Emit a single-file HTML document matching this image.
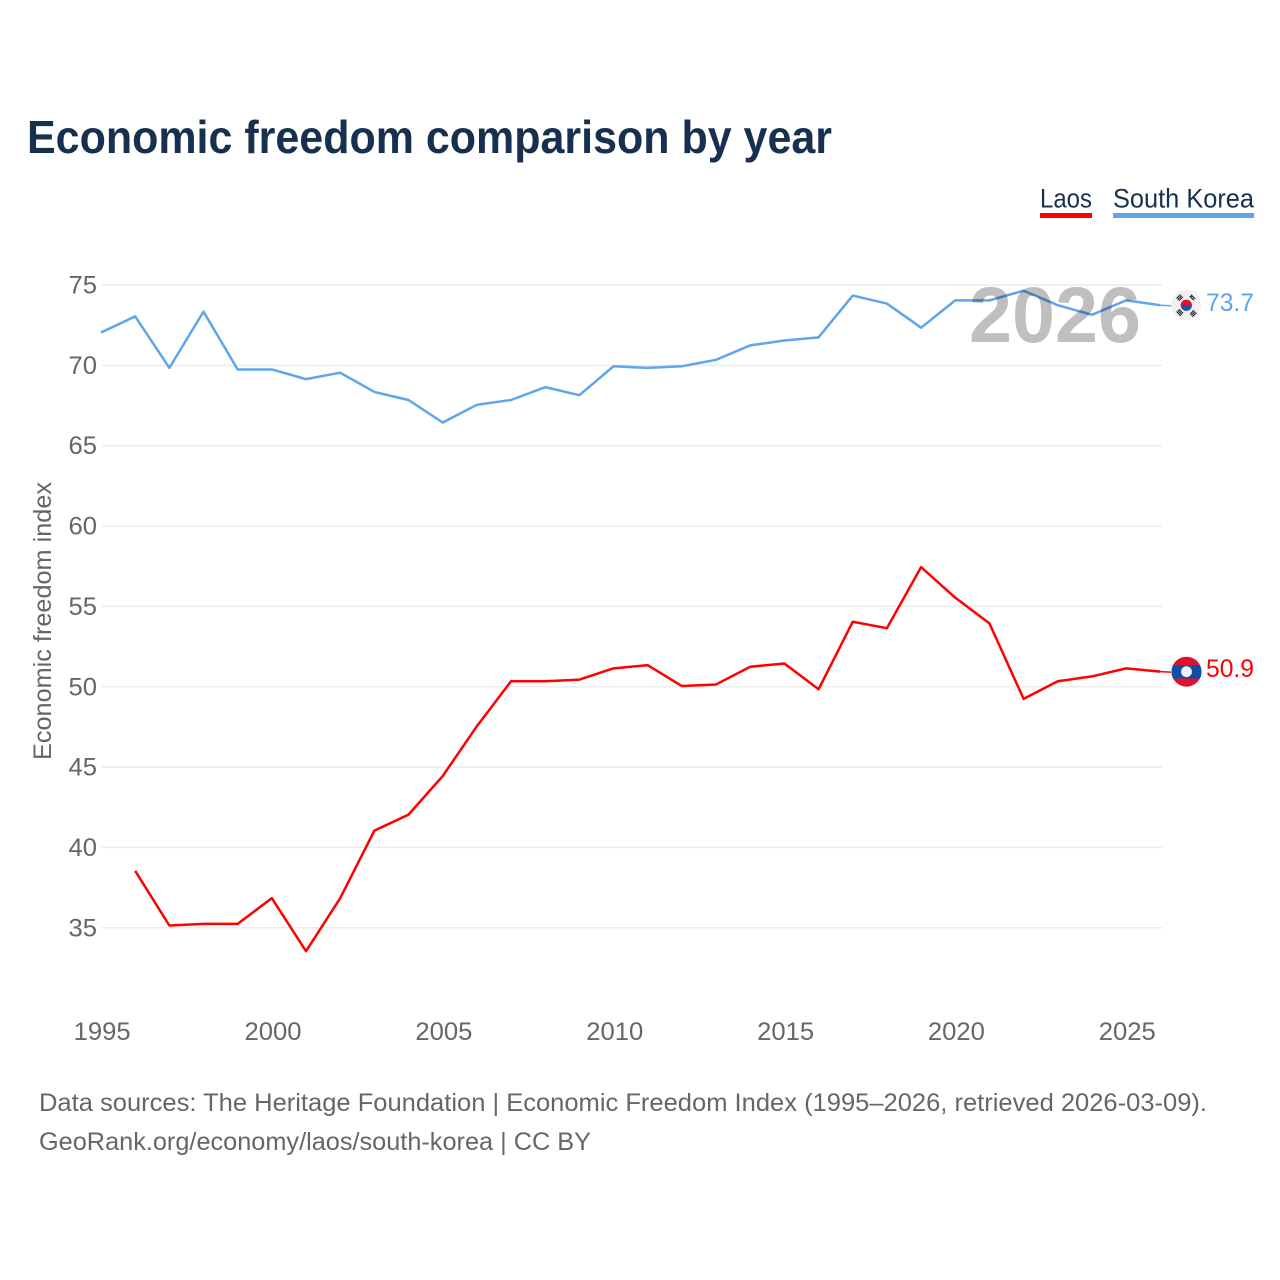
<!DOCTYPE html>
<html lang="en">
<head>
<meta charset="utf-8">
<title>Economic freedom comparison by year</title>
<style>
html,body{margin:0;padding:0;background:#fff;}
svg{display:block;}
text{font-family:"Liberation Sans",sans-serif;}
</style>
</head>
<body>
<svg id="chart" xmlns="http://www.w3.org/2000/svg" width="1280" height="1280" viewBox="0 0 1280 1280">
  <rect x="0" y="0" width="1280" height="1280" fill="#fff"/>
  <text x="27" y="153" font-size="46" font-weight="700" fill="#18304f" textLength="805" lengthAdjust="spacingAndGlyphs">Economic freedom comparison by year</text>

  <g style="cursor:pointer">
    <text x="1040" y="207.5" font-size="26.5" fill="#18304f" textLength="52" lengthAdjust="spacingAndGlyphs">Laos</text>
    <rect x="1040" y="213" width="52" height="5" fill="#ff0000"/>
  </g>
  <g style="cursor:pointer">
    <text x="1113" y="207.5" font-size="26.5" fill="#18304f" textLength="141" lengthAdjust="spacingAndGlyphs">South Korea</text>
    <rect x="1113" y="213" width="141" height="5" fill="#5fa5ec"/>
  </g>

  <text transform="translate(51,621) rotate(-90)" text-anchor="middle" font-size="25" fill="#666" textLength="278" lengthAdjust="spacingAndGlyphs">Economic freedom index</text>

  <g id="grid"></g>
  <g id="yLabels"></g>
  <g id="xLabels"></g>
  <g id="series"></g>

  <text x="969" y="342" font-size="79" font-weight="700" fill="#000" fill-opacity="0.25" textLength="172" lengthAdjust="spacingAndGlyphs">2026</text>

  <defs>
    <clipPath id="krClip"><circle cx="1186" cy="305" r="15"/></clipPath>
    <clipPath id="laClip"><circle cx="1186.5" cy="671.7" r="15"/></clipPath>
  </defs>

  <g id="flagKR">
    <circle cx="1186" cy="305" r="15" fill="#f0f0f0"/>
    <g clip-path="url(#krClip)">
      <circle cx="1186.3" cy="305.3" r="5.6" fill="#1d50a8"/>
      <path d="M1180.7 305.3a5.6 5.6 0 0 1 11.2 0z" fill="#e0102f"/>
      <g stroke="#222" stroke-width="1.1" fill="none">
        <path d="M1176.5 298.5l4-4M1177.7 299.7l4-4M1178.9 300.9l4-4"/>
        <path d="M1189.6 296l4.2 4.2M1191 294.8l4.2 4.2M1190.6 297l1.6-1.6"/>
        <path d="M1176.5 311.5l4.2 4.2M1177.7 310.3l4.2 4.2M1178.9 309.1l4.2 4.2"/>
        <path d="M1190 314.3l4-4M1191.2 315.5l4-4M1192.4 316.7l4-4"/>
      </g>
    </g>
  </g>
  <g id="flagLA">
    <circle cx="1186.5" cy="671.7" r="15" fill="#e0102f"/>
    <g clip-path="url(#laClip)">
      <rect x="1170" y="665" width="33" height="13.5" fill="#0f4ea8"/>
    </g>
    <circle cx="1186.5" cy="671.7" r="5.4" fill="#f2f2f2"/>
  </g>

  <text x="1206" y="311" font-size="25" fill="#5fa5ec" textLength="48" lengthAdjust="spacingAndGlyphs">73.7</text>
  <text x="1206" y="677" font-size="25" fill="#ff0000" textLength="48" lengthAdjust="spacingAndGlyphs">50.9</text>

  <text x="39" y="1111" font-size="25" fill="#666" textLength="1168" lengthAdjust="spacingAndGlyphs">Data sources: The Heritage Foundation | Economic Freedom Index (1995–2026, retrieved 2026-03-09).</text>
  <text x="39" y="1150" font-size="25" fill="#666" textLength="552" lengthAdjust="spacingAndGlyphs">GeoRank.org/economy/laos/south-korea | CC BY</text>
</svg>

<script>
const years = [1995,1996,1997,1998,1999,2000,2001,2002,2003,2004,2005,2006,2007,2008,2009,2010,2011,2012,2013,2014,2015,2016,2017,2018,2019,2020,2021,2022,2023,2024,2025,2026];
const southKorea = [72.0,73.0,69.8,73.3,69.7,69.7,69.1,69.5,68.3,67.8,66.4,67.5,67.8,68.6,68.1,69.9,69.8,69.9,70.3,71.2,71.5,71.7,74.3,73.8,72.3,74.0,74.0,74.6,73.7,73.1,74.0,73.7];
const laos = [null,38.5,35.1,35.2,35.2,36.8,33.5,36.8,41.0,42.0,44.4,47.5,50.3,50.3,50.4,51.1,51.3,50.0,50.1,51.2,51.4,49.8,54.0,53.6,57.4,55.5,53.9,49.2,50.3,50.6,51.1,50.9];
const yTicks = [35,40,45,50,55,60,65,70,75];
const xTicks = [1995,2000,2005,2010,2015,2020,2025];

const SVGNS = 'http://www.w3.org/2000/svg';
const xScale = function (yr) { return 101.5 + (yr - 1995) * 34.17; };
const yScale = function (v) { return 285 + (75 - v) * 16.07; };
const lineDx = -0.5;
const lineDy = -0.7;

const grid = document.getElementById('grid');
const yLabels = document.getElementById('yLabels');
const xLabels = document.getElementById('xLabels');
const series = document.getElementById('series');

yTicks.forEach(function (t) {
  const ln = document.createElementNS(SVGNS, 'line');
  ln.setAttribute('x1', 102);
  ln.setAttribute('x2', 1162);
  ln.setAttribute('y1', yScale(t));
  ln.setAttribute('y2', yScale(t));
  ln.setAttribute('stroke', '#ececec');
  ln.setAttribute('stroke-width', 1.5);
  
  
  grid.appendChild(ln);

  const lb = document.createElementNS(SVGNS, 'text');
  lb.setAttribute('x', 97);
  lb.setAttribute('y', yScale(t) + 8.5);
  lb.setAttribute('text-anchor', 'end');
  lb.setAttribute('font-size', 25);
  lb.setAttribute('fill', '#666');
  lb.setAttribute('textLength', 28.5);
  lb.setAttribute('lengthAdjust', 'spacingAndGlyphs');
  
  
  lb.textContent = t;
  yLabels.appendChild(lb);
});

xTicks.forEach(function (t) {
  const lb = document.createElementNS(SVGNS, 'text');
  lb.setAttribute('x', xScale(t) + 0.7);
  lb.setAttribute('y', 1040);
  lb.setAttribute('text-anchor', 'middle');
  lb.setAttribute('font-size', 25);
  lb.setAttribute('fill', '#666');
  lb.setAttribute('textLength', 57);
  lb.setAttribute('lengthAdjust', 'spacingAndGlyphs');
  
  
  lb.textContent = t;
  xLabels.appendChild(lb);
});

function pathFor(values) {
  let d = '';
  values.forEach(function (v, i) {
    if (v === null) return;
    d += (d === '' ? 'M' : 'L') + (xScale(years[i]) + lineDx).toFixed(2) + ' ' + (yScale(v) + lineDy).toFixed(2);
  });
  return d;
}

function drawSeries(values, color, name) {
  const p = document.createElementNS(SVGNS, 'path');
  p.setAttribute('d', pathFor(values));
  p.setAttribute('fill', 'none');
  p.setAttribute('stroke', color);
  p.setAttribute('stroke-width', 2.5);
  p.setAttribute('stroke-linejoin', 'round');
  
  
  series.appendChild(p);

  const last = values[values.length - 1];
  const c = document.createElementNS(SVGNS, 'line');
  c.setAttribute('x1', xScale(years[years.length - 1]) + lineDx);
  c.setAttribute('x2', 1171);
  c.setAttribute('y1', yScale(last) + lineDy);
  c.setAttribute('y2', yScale(last) + lineDy + 0.5);
  c.setAttribute('stroke', color);
  c.setAttribute('stroke-width', 1.5);
  
  
  series.appendChild(c);
}

drawSeries(southKorea, '#5fa5ec', 'south-korea');
drawSeries(laos, '#ff0000', 'laos');
</script>
</body>
</html>
